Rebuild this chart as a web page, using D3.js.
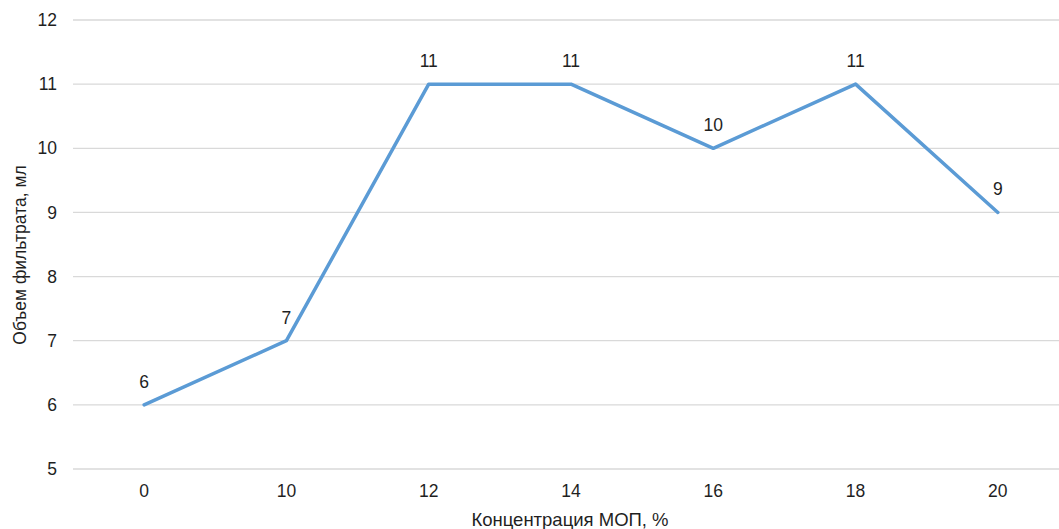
<!DOCTYPE html>
<html>
<head>
<meta charset="utf-8">
<script src="https://cdn.jsdelivr.net/npm/d3@7"></script>
<style>
  html, body { margin: 0; padding: 0; background: #fff; }
  svg { display: block; font-family: "Liberation Sans", Arial, sans-serif; }
</style>
</head>
<body>
<svg id="chart" width="1059" height="529"></svg>
<script>
// Filtrate volume vs. concentration
const categories = ["0", "10", "12", "14", "16", "18", "20"];
const volumes = [6, 7, 11, 11, 10, 11, 9];
const yTicks = [5, 6, 7, 8, 9, 10, 11, 12];
const xTitle = "Концентрация МОП, %";
const yTitle = "Объем фильтрата, мл";

const textColor = "#1f1f1f";
const svg = d3.select("#chart");
const plot = { left: 73, right: 1069, top: 20, bottom: 469 };

const x = d3.scalePoint().domain(categories).range([plot.left, plot.right]).padding(0.5);
const y = d3.scaleLinear().domain([5, 12]).range([plot.bottom, plot.top]);

// Gridlines
svg.append("g").selectAll("line").data(yTicks).join("line")
  .attr("x1", plot.left).attr("x2", plot.right)
  .attr("y1", d => y(d)).attr("y2", d => y(d))
  .attr("stroke", "#d9d9d9").attr("stroke-width", 1.3);

// Y tick labels
svg.append("g").selectAll("text").data(yTicks).join("text")
  .attr("x", 57).attr("y", d => y(d)).attr("dy", "0.35em")
  .attr("text-anchor", "end").attr("font-size", 17.5).attr("fill", textColor)
  .text(d => d);

// X tick labels
svg.append("g").selectAll("text").data(categories).join("text")
  .attr("x", d => x(d)).attr("y", 497)
  .attr("text-anchor", "middle").attr("font-size", 17.5).attr("fill", textColor)
  .text(d => d);

// Axis titles
svg.append("text").attr("x", 570).attr("y", 526)
  .attr("text-anchor", "middle").attr("font-size", 18.5).attr("fill", textColor)
  .text(xTitle);
svg.append("text")
  .attr("transform", "translate(26,255) rotate(-90)")
  .attr("text-anchor", "middle").attr("font-size", 17.5).attr("fill", textColor)
  .text(yTitle);

// Series line
const line = d3.line().x((d, i) => x(categories[i])).y(d => y(d));
svg.append("path").datum(volumes)
  .attr("d", line).attr("fill", "none")
  .attr("stroke", "#5b9bd5").attr("stroke-width", 3.5)
  .attr("stroke-linejoin", "round").attr("stroke-linecap", "round");

// Data labels
svg.append("g").selectAll("text").data(volumes).join("text")
  .attr("x", (d, i) => x(categories[i])).attr("y", d => y(d) - 17)
  .attr("text-anchor", "middle").attr("font-size", 17.5).attr("fill", textColor)
  .text(d => d);
</script>
</body>
</html>
